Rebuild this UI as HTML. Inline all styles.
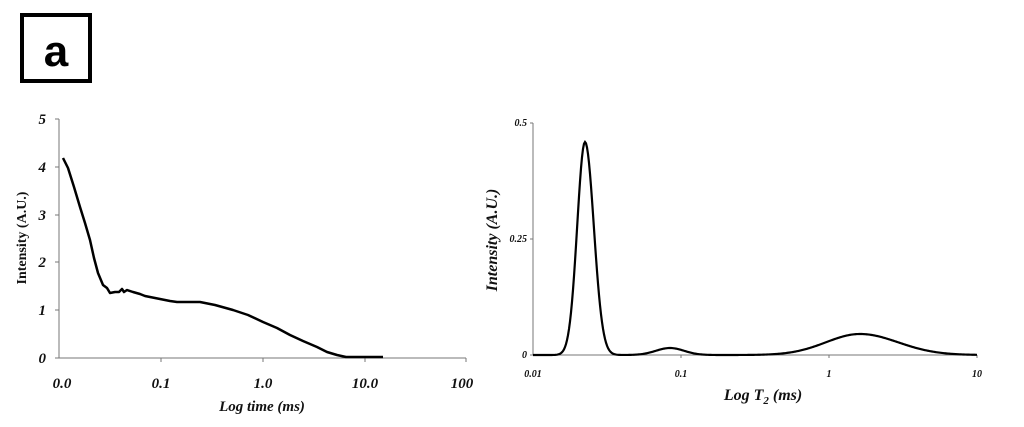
<!DOCTYPE html><html><head><style>body{margin:0;background:#fff}svg{display:block}</style></head><body>
<svg id="s" width="1024" height="427" xmlns="http://www.w3.org/2000/svg" font-family="Liberation Serif" font-style="italic" font-weight="bold" fill="#111">
<rect x="22" y="15" width="68" height="66" fill="none" stroke="#000" stroke-width="4"/>
<text x="56" y="66" font-family="Liberation Sans" font-style="normal" font-size="44" text-anchor="middle" fill="#000">a</text>
<g stroke="#777" stroke-width="1"><line x1="59" y1="119" x2="59" y2="358"/><line x1="59" y1="358" x2="466" y2="358"/>
<line x1="55" y1="119" x2="59" y2="119"/><line x1="55" y1="167" x2="59" y2="167"/><line x1="55" y1="215" x2="59" y2="215"/><line x1="55" y1="262" x2="59" y2="262"/><line x1="55" y1="310" x2="59" y2="310"/><line x1="55" y1="358" x2="59" y2="358"/>
<line x1="161" y1="358" x2="161" y2="362"/><line x1="263" y1="358" x2="263" y2="362"/><line x1="365" y1="358" x2="365" y2="362"/><line x1="466" y1="358" x2="466" y2="362"/></g>
<g font-size="15" text-anchor="end"><text x="46" y="124">5</text><text x="46" y="172">4</text><text x="46" y="220">3</text><text x="46" y="267">2</text><text x="46" y="315">1</text><text x="46" y="363">0</text></g>
<g font-size="15" text-anchor="middle"><text x="62" y="388">0.0</text><text x="161" y="388">0.1</text><text x="263" y="388">1.0</text><text x="365" y="388">10.0</text><text x="462" y="388">100</text></g>
<text x="262" y="411" font-size="15" text-anchor="middle">Log time (ms)</text>
<text transform="translate(26,238) rotate(-90)" font-size="14" font-style="normal" text-anchor="middle">Intensity (A.U.)</text>
<polyline fill="none" stroke="#000" stroke-width="2.5" stroke-linejoin="round" points="63,158 68,168 74,187 80,207 85,223 90,240 94,258 98,273 103,285 107,288 110,293 115,292 119,292 122,289 124,292 127,290 133,292 140,294 145,296 150,297 155,298 160,299 165,300 170,301 177,302 190,302 200,302 215,305 233,310 248,315 263,322 277,328 290,335 303,341 317,347 327,352 337,355 346,357 353,357 383,357"/>
<g stroke="#777" stroke-width="1"><line x1="533" y1="123" x2="533" y2="355"/><line x1="533" y1="355" x2="977" y2="355"/>
<line x1="530" y1="123" x2="533" y2="123"/><line x1="530" y1="239" x2="533" y2="239"/><line x1="530" y1="355" x2="533" y2="355"/>
<line x1="681" y1="355" x2="681" y2="358"/><line x1="829" y1="355" x2="829" y2="358"/><line x1="977" y1="355" x2="977" y2="358"/></g>
<g font-size="10" text-anchor="end"><text x="527" y="126">0.5</text><text x="527" y="242">0.25</text><text x="527" y="358">0</text></g>
<g font-size="10" text-anchor="middle"><text x="533" y="377">0.01</text><text x="681" y="377">0.1</text><text x="829" y="377">1</text><text x="977" y="377">10</text></g>
<text x="763" y="400" font-size="16" text-anchor="middle">Log T<tspan font-size="11" dy="4">2</tspan><tspan dy="-4"> (ms)</tspan></text>
<text transform="translate(497,240) rotate(-90)" font-size="16" text-anchor="middle">Intensity (A.U.)</text>
<path id="p" fill="none" stroke="#000" stroke-width="2.2"/>
</svg>
<script>
var d='';for(var x=533;x<=977;x+=1){var s1=x<585?7.8:8.8;var y=355-213*Math.exp(-Math.pow((x-585)/s1,2)/2)-7*Math.exp(-Math.pow((x-670)/14,2)/2)-21*Math.exp(-Math.pow((x-860)/(x<860?34:38),2)/2);d+=(x==533?'M':'L')+x+','+y.toFixed(2);}
document.getElementById('p').setAttribute('d',d);
</script>
</body></html>
